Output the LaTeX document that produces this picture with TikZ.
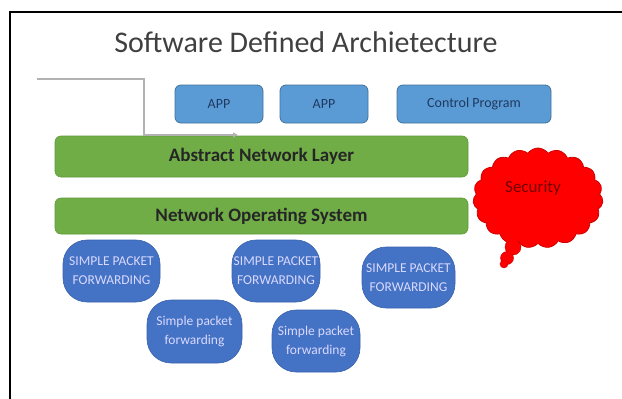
\documentclass[tikz,border=0pt]{standalone}
\usepackage{fontspec}
\setmainfont{Carlito}
\usetikzlibrary{shapes.symbols,arrows.meta}
\definecolor{appblue}{HTML}{5B9BD5}
\definecolor{appedge}{HTML}{41719C}
\definecolor{fwdblue}{HTML}{4472C4}
\definecolor{fwdedge}{HTML}{3A62AC}
\definecolor{layergreen}{HTML}{70AD47}
\definecolor{layeredge}{HTML}{5E9A3A}
\definecolor{navytext}{HTML}{1F3A60}
\definecolor{titlegray}{HTML}{404040}
\tikzset{
  appbox/.style={draw=appedge, fill=appblue, rounded corners=6pt, line width=0.8pt,
    inner sep=0pt, text=navytext, font=\fontsize{14}{16}\selectfont},
  layerbar/.style={draw=layeredge, fill=layergreen, rounded corners=6pt, line width=0.6pt,
    inner sep=0pt, minimum width=413pt, text=black!85, font=\fontsize{19}{22}\selectfont\bfseries},
  fwdbox/.style={draw=fwdedge, fill=fwdblue, rounded corners=24pt, line width=0.6pt,
    inner sep=0pt, align=center, text=white!85!blue, font=\fontsize{13.5}{19}\selectfont},
  feedline/.style={draw=black!30, line width=1.1pt, -{Triangle[length=5pt,width=5pt]}},
}
\begin{document}
\begin{tikzpicture}[x=1pt,y=-1pt]
\useasboundingbox (0,0) rectangle (622,399);
% frame and title
\draw[line width=2pt] (10,399) -- (10,12) -- (622,12);
\node[text=titlegray, font=\fontsize{30}{33}\selectfont] (title) at (306,42) {Software Defined Archietecture};
% top row
\begin{scope}[minimum height=38pt]
  \node[appbox, minimum width=88pt] (app1) at (219,104) {APP};
  \node[appbox, minimum width=88pt] (app2) at (324,104) {APP};
  \node[appbox, minimum width=154pt] (ctrl) at (474,104) {Control Program};
\end{scope}
% layers
\node[layerbar, minimum height=41pt] (anl) at (261.5,156.5) {Abstract Network Layer};
\node[layerbar, minimum height=36pt] (nos) at (261.5,216) {Network Operating System};
\coordinate (feed) at (37,79);
\coordinate (feedtip) at (238,135);
\draw[feedline] (feed) -- ++(107,0) |- (feedtip);
% forwarding elements
\node[fwdbox, minimum width=97pt, minimum height=62pt] (fwd1) at (111.5,271) {SIMPLE PACKET\\FORWARDING};
\node[fwdbox, minimum width=88pt, minimum height=62pt] (fwd2) at (276,271) {SIMPLE PACKET\\FORWARDING};
\node[fwdbox, minimum width=93pt, minimum height=61pt] (fwd3) at (408.5,277.5) {SIMPLE PACKET\\FORWARDING};
\node[fwdbox, minimum width=95pt, minimum height=63pt] (fwd4) at (194.5,331.5) {Simple packet\\forwarding};
\node[fwdbox, minimum width=88pt, minimum height=62pt] (fwd5) at (316,341) {Simple packet\\forwarding};
% security cloud
\filldraw[draw=red!80!black, fill=red] (513,247) circle (8pt);
\filldraw[draw=red!80!black, fill=red] (507,258) circle (6.5pt);
\filldraw[draw=red!80!black, fill=red] (504,264) circle (4pt);
\node[cloud, cloud puffs=19, cloud puff arc=110, draw=red!80!black, fill=red, line width=0.8pt,
  minimum width=130pt, minimum height=100pt, inner sep=0pt] (sec) at (538,198) {};
\fill[red] (513,247) circle (7pt);
\node[text=red!45!black, font=\fontsize{17}{20}\selectfont] (sectext) at (533,188) {Security};
\end{tikzpicture}
\end{document}
